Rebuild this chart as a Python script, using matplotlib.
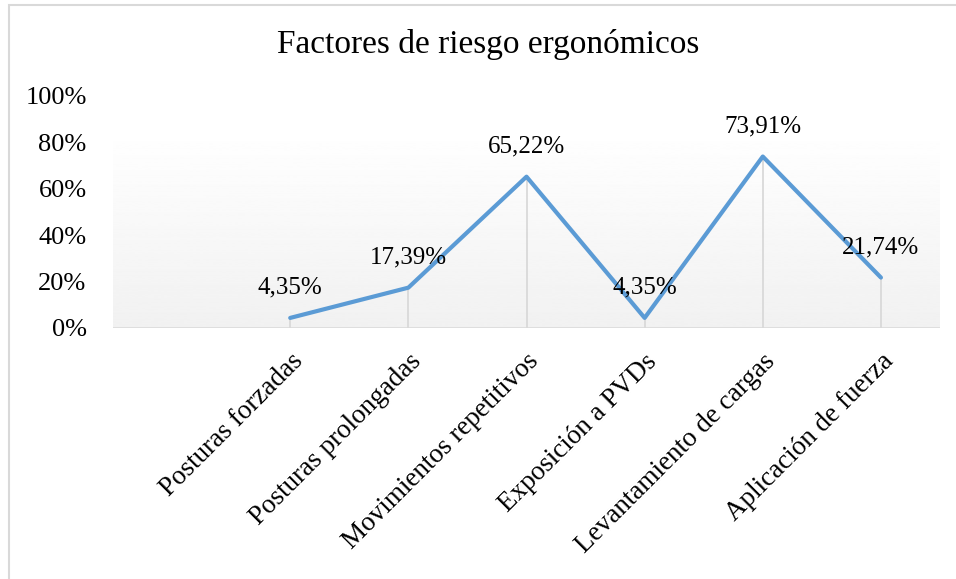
import numpy as np
import matplotlib
matplotlib.use('Agg')
import matplotlib.pyplot as plt
import matplotlib.patches as patches

plt.rcParams['font.family'] = 'serif'
plt.rcParams['font.serif'] = ['Liberation Serif', 'DejaVu Serif']

# datos (la primera categoría está vacía en el gráfico original)
categorias = ['', 'Posturas forzadas', 'Posturas prolongadas', 'Movimientos repetitivos',
              'Exposición a PVDs', 'Levantamiento de cargas', 'Aplicación de fuerza']
valores = [np.nan, 4.35, 17.39, 65.22, 4.35, 73.91, 21.74]
etiquetas = ['', '4,35%', '17,39%', '65,22%', '4,35%', '73,91%', '21,74%']
ticks_y = [0, 20, 40, 60, 80, 100]

W, H = 956, 579
fig = plt.figure(figsize=(W / 100, H / 100), dpi=100)
ax = fig.add_axes([113 / W, 1 - 328 / H, (940 - 113) / W, (328 - 96) / H])

x = np.arange(len(categorias))
y = np.array(valores)

# fondo degradado del área de trazado
grad = np.linspace(0.945, 1.0, 256).reshape(-1, 1)
ax.imshow(grad, cmap='gray', vmin=0, vmax=1, aspect='auto',
          extent=[-0.5, len(categorias) - 0.5, 0, 86.5], origin='lower', zorder=0)

# líneas de caída
mask = ~np.isnan(y)
ax.vlines(x[mask], 0, y[mask], color='#D9D9D9', linewidth=1.3, zorder=1)
ax.axhline(0, color='#D9D9D9', linewidth=1.8, zorder=1)

ax.plot(x, y, color='#5B9BD5', linewidth=3.0, solid_capstyle='round', zorder=3)

for xi, yi, lab in zip(x, y, etiquetas):
    if np.isnan(yi):
        continue
    ax.annotate(lab, (xi, yi), xytext=(0, 22), textcoords='offset points',
                ha='center', va='center', fontsize=18, zorder=4)

ax.set_xlim(-0.5, len(categorias) - 0.5)
ax.set_ylim(0, 100)
ax.set_yticks(ticks_y)
ax.set_yticklabels([f'{t}%' for t in ticks_y], fontsize=19)
ax.set_xticks(x)
ax.set_xticklabels(categorias, rotation=45, ha='right', rotation_mode='anchor', fontsize=19.5)
ax.tick_params(axis='y', length=0, pad=19)
ax.tick_params(axis='x', length=0, pad=15)
for s in ax.spines.values():
    s.set_visible(False)

fig.text(488 / W, 1 - 45 / H, 'Factores de riesgo ergonómicos', ha='center', va='center', fontsize=24)

# borde del gráfico
fig.patches.append(patches.Rectangle((9 / W, -0.1), 1.2, 1 - 5 / H + 0.1, transform=fig.transFigure,
                                     fill=False, edgecolor='#D9D9D9', linewidth=1.5))

fig.savefig('out.png', dpi=100)
